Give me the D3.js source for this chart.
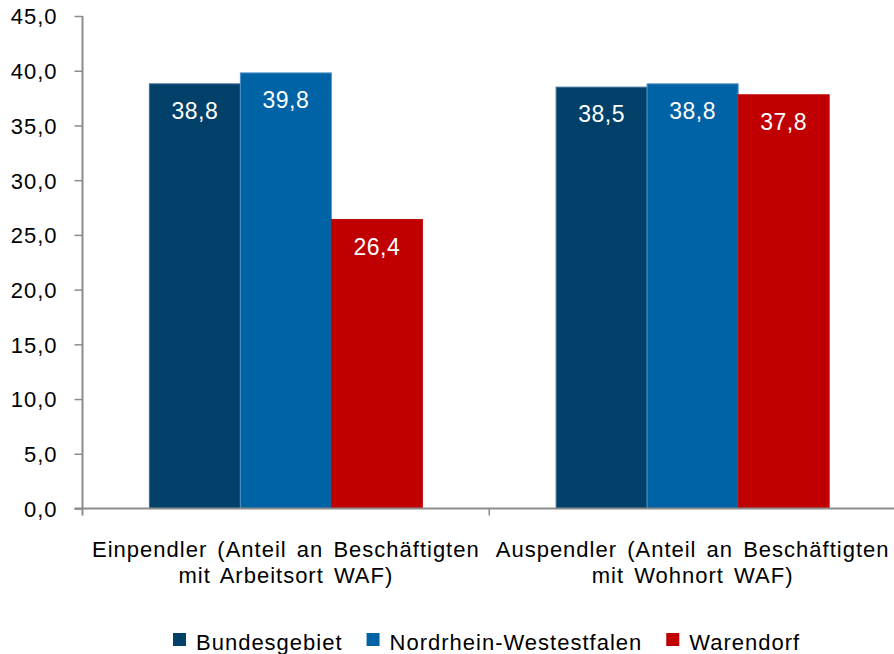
<!DOCTYPE html>
<html><head><meta charset="utf-8">
<script src="https://cdn.jsdelivr.net/npm/d3@7"></script>
<style>
body{margin:0;background:#fff;}
text{font-family:"Liberation Sans",Arial,sans-serif;}
</style></head>
<body>
<svg id="c" width="894" height="654"></svg>
<script>
const categories = [
  ["Einpendler (Anteil an Beschäftigten", "mit Arbeitsort WAF)"],
  ["Auspendler (Anteil an Beschäftigten", "mit Wohnort WAF)"]
];
const seriesNames = ["Bundesgebiet", "Nordrhein-Westestfalen", "Warendorf"];
const bundesgebiet = [38.8, 38.5];
const nrw = [39.8, 38.8];
const warendorf = [26.4, 37.8];
const yTicks = [0, 5, 10, 15, 20, 25, 30, 35, 40, 45];
const colors = ["#004069", "#0063A6", "#C00000"];
const strokes = ["#3f6f96", "#4c8fc4", "#C00000"];

(function () {
const series = [bundesgebiet, nrw, warendorf];
const svg = d3.select("#c");
const mLeft = 82.5, mRight = 896, mTop = 16, mBottom = 508.5;
const fmt = v => v.toFixed(1).replace(".", ",");

const y = d3.scaleLinear().domain([0, 45]).range([mBottom, mTop]);
const x0 = d3.scaleBand().domain(d3.range(categories.length)).range([mLeft, mRight]).padding(0);
const x1 = d3.scaleBand().domain(d3.range(series.length)).range([0, x0.bandwidth()]).paddingInner(0).paddingOuter(0.735);

// bars
series.forEach((vals, si) => {
  const g = svg.append("g");
  g.selectAll("rect").data(vals).join("rect")
    .attr("x", (d, i) => x0(i) + x1(si))
    .attr("y", d => y(d))
    .attr("width", x1.bandwidth())
    .attr("height", d => y(0) - y(d))
    .attr("fill", colors[si])
    .attr("stroke", strokes[si])
    .attr("stroke-width", 1);
  g.selectAll("text").data(vals).join("text")
    .attr("x", (d, i) => x0(i) + x1(si) + x1.bandwidth() / 2)
    .attr("y", d => y(d) + 35)
    .attr("text-anchor", "middle")
    .attr("fill", "#fff")
    .attr("font-size", 23)
    .attr("letter-spacing", 0.5)
    .text(d => fmt(d));
});

// y axis
const yAxis = d3.axisLeft(y).tickValues(yTicks).tickSize(8).tickFormat(fmt);
const ya = svg.append("g").attr("transform", `translate(${mLeft},0)`).call(yAxis);
ya.select(".domain").attr("d", `M0,${mTop}V${mBottom + 7}`).attr("stroke", "#8c8c8c").attr("stroke-width", 2);
ya.selectAll(".tick line").attr("stroke", "#8c8c8c").attr("stroke-width", 1.5);
ya.selectAll(".tick text").attr("font-size", 22).attr("letter-spacing", 1).attr("fill", "#000")
  .attr("x", -25).attr("dy", "0.36em").attr("font-family", "Liberation Sans, Arial, sans-serif");

// x axis
const xa = svg.append("g").attr("transform", `translate(0,${mBottom})`);
xa.append("line").attr("x1", mLeft - 8).attr("x2", 894).attr("y1", 0).attr("y2", 0)
  .attr("stroke", "#8c8c8c").attr("stroke-width", 2);
xa.selectAll("line.t").data(d3.range(1, categories.length)).join("line").attr("class", "t")
  .attr("x1", d => x0(d)).attr("x2", d => x0(d)).attr("y1", 0).attr("y2", 7)
  .attr("stroke", "#8c8c8c").attr("stroke-width", 1.5);
categories.forEach((lines, i) => {
  const t = svg.append("text")
    .attr("text-anchor", "middle")
    .attr("font-size", 22)
    .attr("letter-spacing", 1)
    .attr("word-spacing", 3)
    .attr("fill", "#000");
  lines.forEach((ln, li) => {
    t.append("tspan").attr("x", x0(i) + x0.bandwidth() / 2).attr("y", 557 + li * 26).text(ln);
  });
});

// legend
let lx = 173;
const lg = svg.append("g");
seriesNames.forEach((n, i) => {
  lg.append("rect").attr("x", lx).attr("y", 633).attr("width", 13).attr("height", 13).attr("fill", colors[i]);
  const t = lg.append("text").attr("x", lx + 23).attr("y", 650)
    .attr("font-size", 22).attr("letter-spacing", 1).attr("fill", "#000").text(n);
  lx += 23 + t.node().getComputedTextLength() + 24;
});
})();
</script>
</body></html>
